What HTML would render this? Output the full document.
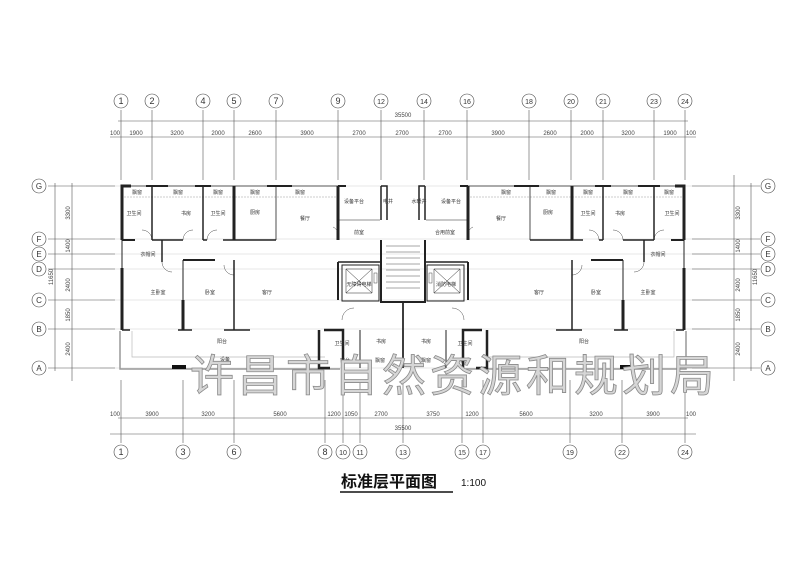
<!DOCTYPE html>
<html><head><meta charset="utf-8"><style>
html,body{margin:0;padding:0;background:#fff}
svg{display:block}
text{font-family:"Liberation Sans","Noto Sans CJK SC",sans-serif}
</style></head><body>
<svg width="800" height="565" viewBox="0 0 800 565" xmlns="http://www.w3.org/2000/svg">
<rect width="800" height="565" fill="#fff"/>
<!-- grid lines (light) -->
<g stroke="#d0d0d0" stroke-width="0.6">
<line x1="100" y1="186" x2="710" y2="186"/><line x1="100" y1="239" x2="710" y2="239"/>
<line x1="100" y1="254" x2="710" y2="254"/><line x1="100" y1="269" x2="710" y2="269"/>
<line x1="100" y1="300" x2="710" y2="300"/><line x1="100" y1="329" x2="710" y2="329"/>
<line x1="100" y1="368" x2="710" y2="368"/>
</g>
<!-- top axis -->
<g stroke="#555" stroke-width="0.6" fill="none">
<line x1="118" y1="121" x2="688" y2="121"/><line x1="110" y1="137" x2="696" y2="137"/>
<line x1="118" y1="418" x2="688" y2="418"/><line x1="110" y1="434" x2="696" y2="434"/>
<g id="topx">
<line x1="121" y1="110" x2="121" y2="180"/><line x1="152" y1="110" x2="152" y2="180"/><line x1="203" y1="110" x2="203" y2="180"/><line x1="234" y1="110" x2="234" y2="180"/><line x1="276" y1="110" x2="276" y2="180"/><line x1="338" y1="110" x2="338" y2="180"/><line x1="381" y1="110" x2="381" y2="180"/><line x1="424" y1="110" x2="424" y2="180"/><line x1="467" y1="110" x2="467" y2="180"/><line x1="529" y1="110" x2="529" y2="180"/><line x1="571" y1="110" x2="571" y2="180"/><line x1="603" y1="110" x2="603" y2="180"/><line x1="654" y1="110" x2="654" y2="180"/><line x1="685" y1="110" x2="685" y2="180"/>
</g>
<line x1="121" y1="380" x2="121" y2="443"/><line x1="183" y1="380" x2="183" y2="443"/><line x1="234" y1="380" x2="234" y2="443"/><line x1="325" y1="380" x2="325" y2="443"/><line x1="343" y1="380" x2="343" y2="443"/><line x1="360" y1="380" x2="360" y2="443"/><line x1="403" y1="380" x2="403" y2="443"/><line x1="462" y1="380" x2="462" y2="443"/><line x1="483" y1="380" x2="483" y2="443"/><line x1="570" y1="380" x2="570" y2="443"/><line x1="622" y1="380" x2="622" y2="443"/><line x1="685" y1="380" x2="685" y2="443"/>
<!-- left/right dims -->
<line x1="55" y1="183" x2="55" y2="371"/><line x1="72" y1="183" x2="72" y2="381"/>
<line x1="751" y1="183" x2="751" y2="371"/><line x1="734" y1="175" x2="734" y2="381"/>
<g>
<line x1="48" y1="186" x2="115" y2="186"/><line x1="48" y1="239" x2="115" y2="239"/><line x1="48" y1="254" x2="115" y2="254"/><line x1="48" y1="269" x2="115" y2="269"/><line x1="48" y1="300" x2="115" y2="300"/><line x1="48" y1="329" x2="115" y2="329"/><line x1="48" y1="368" x2="115" y2="368"/>
<line x1="692" y1="186" x2="760" y2="186"/><line x1="692" y1="239" x2="760" y2="239"/><line x1="692" y1="254" x2="760" y2="254"/><line x1="692" y1="269" x2="760" y2="269"/><line x1="692" y1="300" x2="760" y2="300"/><line x1="692" y1="329" x2="760" y2="329"/><line x1="692" y1="368" x2="760" y2="368"/>
</g>
<!-- bubbles -->
<g stroke="#444">
<circle cx="121" cy="101" r="7"/><circle cx="152" cy="101" r="7"/><circle cx="203" cy="101" r="7"/><circle cx="234" cy="101" r="7"/><circle cx="276" cy="101" r="7"/><circle cx="338" cy="101" r="7"/><circle cx="381" cy="101" r="7"/><circle cx="424" cy="101" r="7"/><circle cx="467" cy="101" r="7"/><circle cx="529" cy="101" r="7"/><circle cx="571" cy="101" r="7"/><circle cx="603" cy="101" r="7"/><circle cx="654" cy="101" r="7"/><circle cx="685" cy="101" r="7"/>
<circle cx="121" cy="452" r="7"/><circle cx="183" cy="452" r="7"/><circle cx="234" cy="452" r="7"/><circle cx="325" cy="452" r="7"/><circle cx="343" cy="452" r="7"/><circle cx="360" cy="452" r="7"/><circle cx="403" cy="452" r="7"/><circle cx="462" cy="452" r="7"/><circle cx="483" cy="452" r="7"/><circle cx="570" cy="452" r="7"/><circle cx="622" cy="452" r="7"/><circle cx="685" cy="452" r="7"/>
<circle cx="39" cy="186" r="7"/><circle cx="39" cy="239" r="7"/><circle cx="39" cy="254" r="7"/><circle cx="39" cy="269" r="7"/><circle cx="39" cy="300" r="7"/><circle cx="39" cy="329" r="7"/><circle cx="39" cy="368" r="7"/>
<circle cx="768" cy="186" r="7"/><circle cx="768" cy="239" r="7"/><circle cx="768" cy="254" r="7"/><circle cx="768" cy="269" r="7"/><circle cx="768" cy="300" r="7"/><circle cx="768" cy="329" r="7"/><circle cx="768" cy="368" r="7"/>
</g>
</g>
<g font-size="9" fill="#333" text-anchor="middle" font-family="Liberation Serif,serif">
<text x="121" y="104">1</text><text x="152" y="104">2</text><text x="203" y="104">4</text><text x="234" y="104">5</text><text x="276" y="104">7</text><text x="338" y="104">9</text><text x="381" y="104" font-size="7">12</text><text x="424" y="104" font-size="7">14</text><text x="467" y="104" font-size="7">16</text><text x="529" y="104" font-size="7">18</text><text x="571" y="104" font-size="7">20</text><text x="603" y="104" font-size="7">21</text><text x="654" y="104" font-size="7">23</text><text x="685" y="104" font-size="7">24</text>
<text x="121" y="455">1</text><text x="183" y="455">3</text><text x="234" y="455">6</text><text x="325" y="455">8</text><text x="343" y="455" font-size="7">10</text><text x="360" y="455" font-size="7">11</text><text x="403" y="455" font-size="7">13</text><text x="462" y="455" font-size="7">15</text><text x="483" y="455" font-size="7">17</text><text x="570" y="455" font-size="7">19</text><text x="622" y="455" font-size="7">22</text><text x="685" y="455" font-size="7">24</text>
<text x="39" y="189" font-size="8">G</text><text x="39" y="242" font-size="8">F</text><text x="39" y="257" font-size="8">E</text><text x="39" y="272" font-size="8">D</text><text x="39" y="303" font-size="8">C</text><text x="39" y="332" font-size="8">B</text><text x="39" y="371" font-size="8">A</text>
<text x="768" y="189" font-size="8">G</text><text x="768" y="242" font-size="8">F</text><text x="768" y="257" font-size="8">E</text><text x="768" y="272" font-size="8">D</text><text x="768" y="303" font-size="8">C</text><text x="768" y="332" font-size="8">B</text><text x="768" y="371" font-size="8">A</text>
</g>
<g font-size="6" fill="#444" text-anchor="middle">
<text x="403" y="117">35500</text><text x="403" y="430">35500</text>
<text x="115" y="135">100</text><text x="136" y="135">1900</text><text x="177" y="135">3200</text><text x="218" y="135">2000</text><text x="255" y="135">2600</text><text x="307" y="135">3900</text><text x="359" y="135">2700</text><text x="402" y="135">2700</text><text x="445" y="135">2700</text><text x="498" y="135">3900</text><text x="550" y="135">2600</text><text x="587" y="135">2000</text><text x="628" y="135">3200</text><text x="670" y="135">1900</text><text x="691" y="135">100</text>
<text x="115" y="416">100</text><text x="152" y="416">3900</text><text x="208" y="416">3200</text><text x="280" y="416">5600</text><text x="334" y="416">1200</text><text x="351" y="416">1050</text><text x="381" y="416">2700</text><text x="433" y="416">3750</text><text x="472" y="416">1200</text><text x="526" y="416">5600</text><text x="596" y="416">3200</text><text x="653" y="416">3900</text><text x="691" y="416">100</text>
</g>
<g font-size="6" fill="#444" text-anchor="middle">
<text transform="translate(70,213) rotate(-90)">3300</text><text transform="translate(70,246) rotate(-90)">1400</text><text transform="translate(70,285) rotate(-90)">2400</text><text transform="translate(70,315) rotate(-90)">1850</text><text transform="translate(70,349) rotate(-90)">2400</text><text transform="translate(53,277) rotate(-90)">11650</text>
<text transform="translate(740,213) rotate(-90)">3300</text><text transform="translate(740,246) rotate(-90)">1400</text><text transform="translate(740,285) rotate(-90)">2400</text><text transform="translate(740,315) rotate(-90)">1850</text><text transform="translate(740,349) rotate(-90)">2400</text><text transform="translate(757,277) rotate(-90)">11650</text>
</g>
<!-- building half (left), mirrored for right -->
<g id="half" fill="none" stroke="#222">
<line x1="122" y1="186" x2="338" y2="186" stroke="#aaa" stroke-width="2"/>
<line x1="124" y1="197" x2="338" y2="197" stroke="#999" stroke-width="0.5" stroke-dasharray="2,1"/>
<path d="M122,194 V186 H131" stroke-width="3"/>
<line x1="122" y1="186" x2="122" y2="240" stroke-width="3"/>
<line x1="122" y1="240" x2="122" y2="268" stroke-width="1"/>
<line x1="122" y1="268" x2="122" y2="330" stroke-width="3"/>
<line x1="122" y1="240" x2="135" y2="240" stroke-width="2"/>
<line x1="152" y1="186" x2="152" y2="240" stroke-width="1.5"/><line x1="146" y1="186" x2="168" y2="186" stroke-width="2"/>
<line x1="152" y1="240" x2="183" y2="240" stroke-width="1.5"/>
<line x1="203" y1="186" x2="203" y2="240" stroke-width="1.5"/><line x1="195" y1="186" x2="211" y2="186" stroke-width="2"/>
<line x1="203" y1="240" x2="207" y2="240" stroke-width="1.5"/><line x1="223" y1="240" x2="234" y2="240" stroke-width="1.5"/>
<line x1="234" y1="186" x2="234" y2="240" stroke-width="3"/>
<line x1="234" y1="240" x2="276" y2="240" stroke-width="1.5"/>
<line x1="276" y1="186" x2="276" y2="240" stroke-width="0.8"/><line x1="267" y1="186" x2="292" y2="186" stroke-width="2"/>
<line x1="162" y1="240" x2="162" y2="262" stroke-width="1.5"/>
<line x1="183" y1="260" x2="183" y2="330" stroke-width="1"/><line x1="183" y1="300" x2="183" y2="330" stroke-width="3"/>
<line x1="183" y1="260" x2="215" y2="260" stroke-width="2"/>
<line x1="234" y1="260" x2="234" y2="330" stroke-width="1.5"/>
<line x1="122" y1="330" x2="130" y2="330" stroke-width="1.5"/><line x1="178" y1="330" x2="192" y2="330" stroke-width="1.5"/><line x1="224" y1="330" x2="250" y2="330" stroke-width="1.5"/>
<path d="M152,240 a10,10 0 0 0 -10,-10" stroke-width="0.4"/><path d="M183,240 a10,10 0 0 1 10,-10" stroke-width="0.4"/>
<path d="M207,240 a10,10 0 0 1 10,-10" stroke-width="0.4"/><path d="M162,262 a10,10 0 0 0 10,10" stroke-width="0.4"/><path d="M234,275 a10,10 0 0 1 -10,-10" stroke-width="0.4"/>
<!-- balcony -->
<path d="M120,331 V369 H340" stroke="#999" stroke-width="1.5"/>
<path d="M132,331 V357 H325" stroke="#bbb" stroke-width="0.7"/>
<rect x="172" y="365" width="14" height="4" fill="#111" stroke="none"/>
<!-- core left part -->
<path d="M338,186 V240" stroke-width="3"/>
<line x1="338" y1="186" x2="346" y2="186" stroke-width="2"/>
<line x1="338" y1="220" x2="380" y2="220" stroke-width="0.6"/>
<line x1="338" y1="262" x2="338" y2="300" stroke-width="2"/>
<rect x="342" y="265" width="37" height="36" stroke-width="1"/>
<path d="M346,269 h26 v24 h-26 z M346,269 l26,24 M372,269 l-26,24" stroke-width="0.5"/>
<rect x="374" y="273" width="3" height="10" stroke-width="0.4"/>
<line x1="338" y1="262" x2="380" y2="262" stroke-width="1.5"/>
<path d="M381,186 V220 M381,186 h6 v34" stroke-width="1.5"/>
<path d="M381,240 V302 H403" stroke-width="2"/>
<path d="M386,246 h17 M386,252 h17 M386,258 h17 M386,264 h17 M386,270 h17 M386,276 h17 M386,282 h17 M386,288 h17" stroke-width="0.4"/>
<line x1="403" y1="302" x2="403" y2="368" stroke-width="1.5"/>
<path d="M338,240 a10,10 0 0 0 -5,-13" stroke-width="0.4"/>
<path d="M342,320 a12,12 0 0 1 12,-12" stroke-width="0.4"/>
<path d="M324,330 H343 V368 M319,330 V368 H330" stroke-width="2.5"/>
<path d="M360,330 V368" stroke-width="1"/>
</g>
<use href="#half" transform="translate(806,0) scale(-1,1)"/>
<!-- room labels -->
<g font-size="5" fill="#333" text-anchor="middle">
<text x="137" y="194">飘窗</text><text x="178" y="194">飘窗</text><text x="218" y="194">飘窗</text><text x="255" y="194">飘窗</text><text x="300" y="194">飘窗</text>
<text x="669" y="194">飘窗</text><text x="628" y="194">飘窗</text><text x="588" y="194">飘窗</text><text x="551" y="194">飘窗</text><text x="506" y="194">飘窗</text>
<text x="134" y="215">卫生间</text><text x="186" y="215">书房</text><text x="218" y="215">卫生间</text><text x="255" y="214">厨房</text><text x="305" y="220">餐厅</text>
<text x="672" y="215">卫生间</text><text x="620" y="215">书房</text><text x="588" y="215">卫生间</text><text x="548" y="214">厨房</text><text x="501" y="220">餐厅</text>
<text x="148" y="256">衣帽间</text><text x="158" y="294">主卧室</text><text x="210" y="294">卧室</text><text x="267" y="294">客厅</text><text x="222" y="343">阳台</text><text x="225" y="361">设备</text>
<text x="658" y="256">衣帽间</text><text x="648" y="294">主卧室</text><text x="596" y="294">卧室</text><text x="539" y="294">客厅</text><text x="584" y="343">阳台</text>
<text x="354" y="203">设备平台</text><text x="388" y="203">电井</text><text x="359" y="234">前室</text><text x="359" y="286">无障碍电梯</text>
<text x="451" y="203">设备平台</text><text x="419" y="203">水暖井</text><text x="445" y="234">合用前室</text><text x="446" y="286">消防电梯</text>
<text x="342" y="345">卫生间</text><text x="381" y="343">书房</text><text x="345" y="362">窗台</text><text x="380" y="362">飘窗</text>
<text x="465" y="345">卫生间</text><text x="426" y="343">书房</text><text x="426" y="362">飘窗</text><text x="465" y="362">飘窗</text>
</g>
<!-- watermark -->
<text x="190" y="391" font-size="44" letter-spacing="4" fill="#d6d6d6" stroke="#8a8a8a" stroke-width="0.8" font-family="'Noto Serif CJK SC',serif">许昌市自然资源和规划局</text>
<!-- title -->
<text x="341" y="487" font-size="16" font-weight="bold" fill="#111" font-family="'Noto Sans CJK SC',sans-serif">标准层平面图</text>
<line x1="340" y1="492" x2="453" y2="492" stroke="#111" stroke-width="1.5"/>
<text x="461" y="486" font-size="10" fill="#111">1:100</text>
</svg>
</body></html>
